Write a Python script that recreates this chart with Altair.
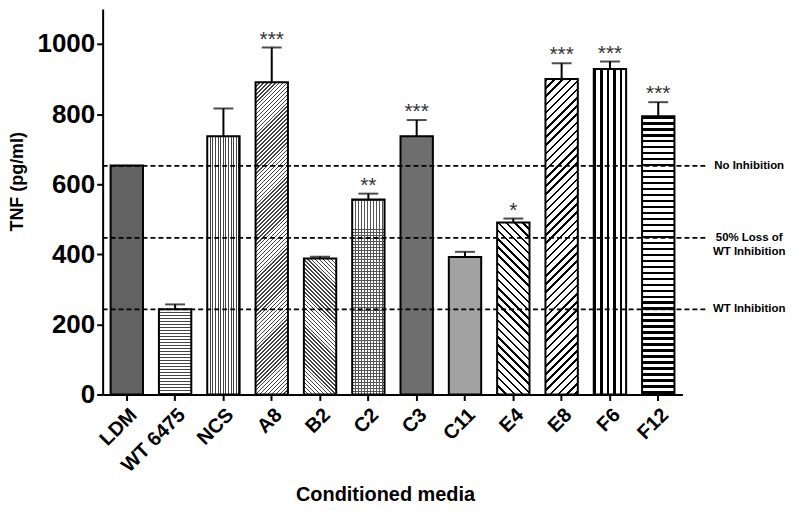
import math
import altair as alt
import pandas as pd

# ---- data ----
categories = ["LDM", "WT 6475", "NCS", "A8", "B2", "C2", "C3", "C11", "E4", "E8", "F6", "F12"]
tnf = [653, 243, 737, 891, 388, 556, 737, 392, 491, 900, 929, 794]
sem = [0, 14, 79, 99, 5, 17, 46, 15, 11, 45, 21, 40]
stars = ["", "", "", "***", "", "**", "***", "", "*", "***", "***", "***"]
ref_values = [652, 447, 243]
ref_labels = ["No Inhibition", "50% Loss of\nWT Inhibition", "WT Inhibition"]
y_ticks = [0, 200, 400, 600, 800, 1000]

df = pd.DataFrame({
    "cat": categories,
    "TNF": tnf,
    "err": [t + s for t, s in zip(tnf, sem)],
    "sem": sem,
    "stars": stars,
})
ref_df = pd.DataFrame({"v": ref_values, "label": ref_labels})

# ---- layout ----
W, H = 582, 387
YMAX = 1100
PAD_IN = 0.33
STEP = W / len(categories)
BAR_W = STEP * (1 - PAD_IN)
PX = H / YMAX
FONT = "Liberation Sans"

x_enc = alt.X(
    "cat:N", sort=categories, title="Conditioned media",
    scale=alt.Scale(paddingInner=PAD_IN, paddingOuter=PAD_IN / 2),
    axis=alt.Axis(labelAngle=-45, labelFontSize=20, labelFontWeight="bold", labelFont=FONT,
                  labelColor="black", tickSize=6, tickWidth=2, tickColor="black",
                  domainWidth=2, domainColor="black", labelPadding=4,
                  titleFontSize=20, titleFontWeight="bold", titleFont=FONT, titleColor="black",
                  titleX=283.5, titleY=100, titleAlign="center", titleBaseline="middle"),
)
y_axis = alt.Axis(values=y_ticks, format="d", labelFontSize=26, labelFontWeight="bold",
                  labelFont=FONT, labelColor="black", tickSize=6, tickWidth=2,
                  tickColor="black", domainWidth=2, domainColor="black", labelPadding=2,
                  grid=False, titleFontSize=18, titleFontWeight="bold", titleFont=FONT,
                  titleColor="black", titleX=-85, titleY=173, titleAngle=-90,
                  titleAlign="center", titleBaseline="middle")
y_scale = alt.Scale(domain=[0, YMAX], nice=False)


def y_enc(field):
    return alt.Y(f"{field}:Q", scale=y_scale, axis=y_axis, title="TNF (pg/ml)")


TRANSP = "rgba(255,255,255,0)"


def stripe_stops(period, thick, length, line, bg):
    stops = []
    pos = 0.0
    while pos < length:
        a = pos / length
        b = min((pos + thick) / length, 1.0)
        c = min((pos + period) / length, 1.0)
        stops += [(a, line), (b, line), (b, bg), (c, bg)]
        pos += period
    return [alt.GradientStop(color=col, offset=round(o, 5)) for o, col in stops]


def pattern(kind, value, period, thick, line, bg="white"):
    w = BAR_W
    h = value * PX
    if kind == "h":
        return alt.LinearGradient(gradient="linear", x1=0, y1=0, x2=0, y2=1,
                                  stops=stripe_stops(period, thick, h, line, bg))
    if kind == "v":
        return alt.LinearGradient(gradient="linear", x1=0, y1=0, x2=1, y2=0,
                                  stops=stripe_stops(period, thick, w, line, bg))
    c = (w + h) / (w * w + h * h)
    a, b = c * w, c * h
    d = (w + h) / math.sqrt(2)
    if kind == "/":
        return alt.LinearGradient(gradient="linear", x1=0, y1=0, x2=round(a, 5), y2=round(b, 5),
                                  stops=stripe_stops(period, thick, d, line, bg))
    return alt.LinearGradient(gradient="linear", x1=0, y1=1, x2=round(a, 5), y2=round(1 - b, 5),
                              stops=stripe_stops(period, thick, d, line, bg))


# fill styles per category (lists of fills layered in order)
styles = {
    "LDM": [("flat", "#626262")],
    "WT 6475": [("h", 3.0, 1.1, "#444")],
    "NCS": [("v", 2.6, 1.0, "#444")],
    "A8": [("/", 2.8, 1.1, "#444")],
    "B2": [("\\", 2.8, 1.1, "#444")],
    "C2": [("h", 3.0, 0.9, "#555"), ("v", 3.0, 0.9, "#555", TRANSP)],
    "C3": [("flat", "#6e6e6e")],
    "C11": [("flat", "#a2a2a2")],
    "E4": [("\\", 5.8, 1.8, "black")],
    "E8": [("/", 5.8, 1.8, "black")],
    "F6": [("v", 6.6, 2.2, "black")],
    "F12": [("h", 6.0, 2.4, "black")],
}

base = alt.Chart(df)
layers = []
for cat, val in zip(categories, tnf):
    for st in styles[cat]:
        if st[0] == "flat":
            fill = st[1]
        else:
            fill = pattern(st[0], val, st[1], st[2], st[3], st[4] if len(st) > 4 else "white")
        layers.append(
            base.transform_filter(alt.datum.cat == cat)
            .mark_bar(fill=fill, strokeWidth=0)
            .encode(x=x_enc, y=y_enc("TNF"))
        )

outline = base.mark_bar(fillOpacity=0, stroke="black", strokeWidth=2).encode(
    x=x_enc, y=y_enc("TNF"))

refs = alt.Chart(ref_df).mark_rule(strokeDash=[5, 3], strokeWidth=1.8, color="black").encode(
    y=y_enc("v"), x=alt.value(0), x2=alt.value(607))

ref_text = alt.Chart(ref_df).mark_text(
    font=FONT, fontSize=11.5, fontWeight="bold", align="center", baseline="middle",
    lineBreak="\n", lineHeight=14, color="black").encode(
    y=y_enc("v"), x=alt.value(649), text="label:N")

err_df = base.transform_filter(alt.datum.sem > 0)
err_line = err_df.mark_rule(strokeWidth=2, color="black").encode(
    x=x_enc, y=y_enc("TNF"), y2="err:Q")
err_cap = err_df.mark_tick(thickness=2, size=20, color="black").encode(
    x=x_enc, y=y_enc("err"))
star_text = base.transform_filter(alt.datum.stars != "").mark_text(
    font=FONT, fontSize=21, dy=-2, baseline="alphabetic", color="#333").encode(
    x=x_enc, y=y_enc("err"), text="stars:N")

chart = alt.layer(*layers, outline, refs, err_line, err_cap, star_text, ref_text).properties(
    width=W, height=H,
    autosize=alt.AutoSizeParams(type="none"),
    padding={"left": 95, "top": 0, "right": 110, "bottom": 110},
).configure_view(stroke=None)

chart.save("out.html", embed_options={"renderer": "svg", "actions": False})
